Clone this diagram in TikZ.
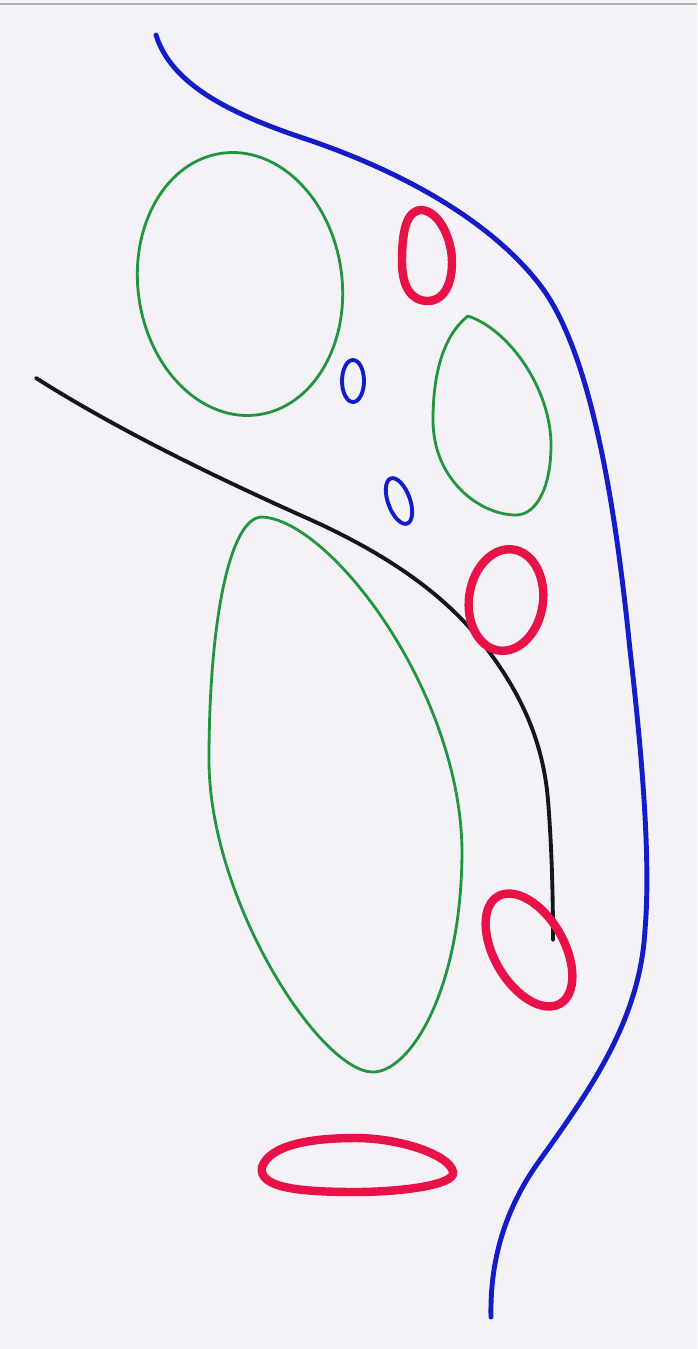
\documentclass[tikz,border=0pt]{standalone}
\usepackage{tikz}
\definecolor{paperwhite}{RGB}{244, 242, 246}
\definecolor{penblue}{RGB}{20, 28, 200}
\definecolor{pengreen}{RGB}{34, 150, 62}
\definecolor{penred}{RGB}{232, 18, 72}
\definecolor{penblack}{RGB}{22, 20, 30}

\begin{document}
\begin{tikzpicture}[
            x=0.02cm, y=-0.02cm,
            blueline/.style={penblue, line width=2.8pt, line cap=round},
            blackline/.style={penblack, line width=2.2pt, line cap=round},
            greenline/.style={pengreen, line width=1.6pt, line join=round},
            redline/.style={penred, line width=4.8pt},
            bluering/.style={penblue, line width=2.2pt}
        ]
            \fill[paperwhite] (0,0) rectangle (697,1349);
            \useasboundingbox (0,0) rectangle (697,1349);
            \draw[black!30, line width=1.2pt] (0,4) -- (697,4);

            % outer blue line
            \draw[blueline] (156,35) .. controls (170,80) and (220,110) .. (300,137)
                .. controls (400,170) and (490,220) .. (540,285)
                .. controls (590,350) and (615,500) .. (630,650)
                .. controls (645,780) and (650,870) .. (645,930)
                .. controls (640,1020) and (590,1090) .. (540,1160)
                .. controls (500,1215) and (490,1270) .. (491,1317);

            % green outlines
            \draw[greenline, shift={(240,284)}, rotate=8] (0,0) ellipse [x radius=102, y radius=132];
            \draw[greenline] (468,316) .. controls (510,330) and (551,390) .. (551,445)
                .. controls (551,490) and (535,515) .. (516,515)
                .. controls (480,515) and (433,480) .. (433,420)
                .. controls (433,360) and (450,330) .. cycle;
            \draw[greenline] (262,517) .. controls (330,520) and (460,690) .. (462,850)
                .. controls (462,990) and (410,1072) .. (373,1072)
                .. controls (320,1072) and (209,900) .. (209,760)
                .. controls (209,620) and (230,517) .. cycle;

            % small blue rings
            \draw[bluering] (353,381) ellipse [x radius=11, y radius=21];
            \draw[bluering, shift={(399,501)}, rotate=20] (0,0) ellipse [x radius=11, y radius=24];

            % black line
            \draw[blackline] (36,378) .. controls (110,425) and (200,470) .. (300,515)
                .. controls (380,550) and (440,590) .. (480,640)
                .. controls (520,690) and (543,740) .. (548,800)
                .. controls (552,850) and (553,900) .. (553,940);

            % red rings
            \draw[redline] (422,210) .. controls (440,212) and (452,240) .. (452,262)
                .. controls (452,290) and (440,301) .. (428,301)
                .. controls (410,301) and (402,285) .. (402,262)
                .. controls (402,235) and (405,210) .. cycle;
            \draw[redline, shift={(506,600)}, rotate=-8] (0,0) ellipse [x radius=37, y radius=51];
            \draw[redline, shift={(529,950)}, rotate=30] (0,0) ellipse [x radius=35, y radius=62];
            \draw[redline] (262,1167) .. controls (270,1145) and (310,1138) .. (356,1138)
                .. controls (400,1138) and (450,1155) .. (453,1172)
                .. controls (456,1185) and (400,1192) .. (356,1192)
                .. controls (300,1192) and (258,1188) .. cycle;
        \end{tikzpicture}
\end{document}
